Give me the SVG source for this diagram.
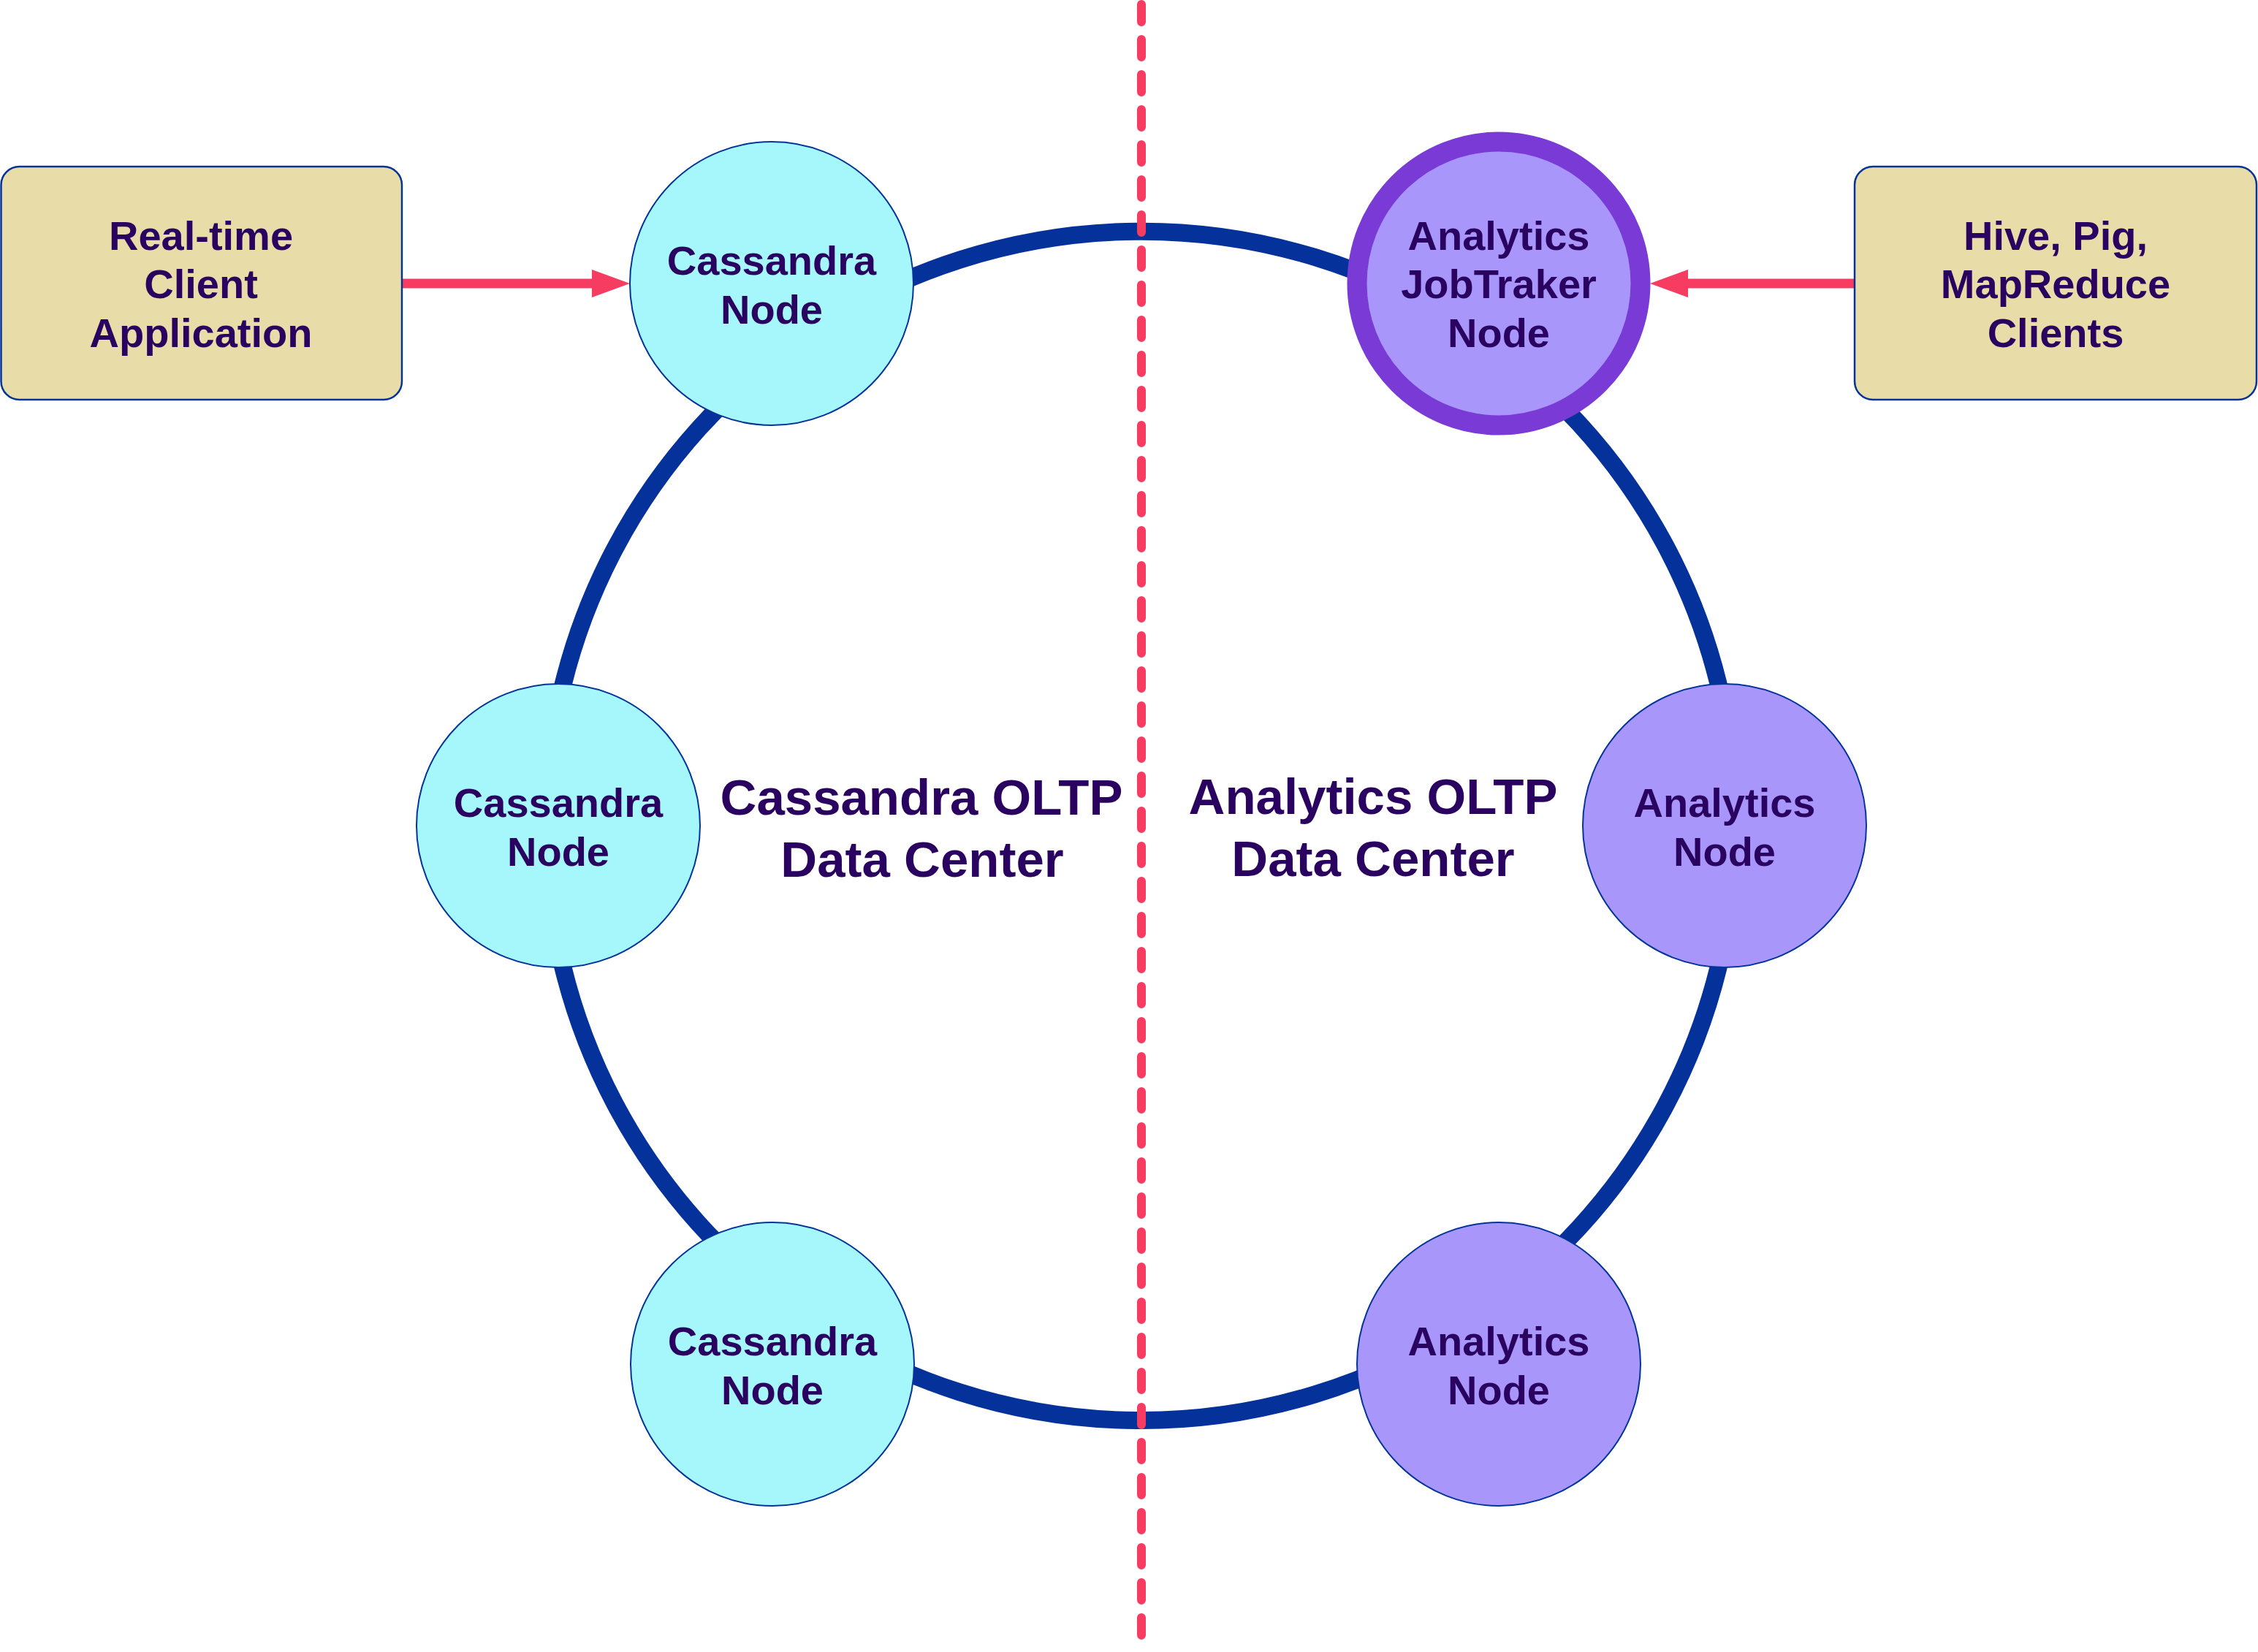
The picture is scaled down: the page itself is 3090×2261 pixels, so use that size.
<svg xmlns="http://www.w3.org/2000/svg" width="3090" height="2261" viewBox="0 0 3090 2261">
<style>
.t{font-family:"Liberation Sans",Arial,sans-serif;font-weight:bold;fill:#2A0360;text-anchor:middle}
.n{font-size:56px}
.big{font-size:69px}
.cass{fill:#A5F7FC;stroke:#04349A;stroke-width:2}
.ana{fill:#A996FB;stroke:#04349A;stroke-width:2}
.box{fill:#E8DCA8;stroke:#04349A;stroke-width:2.5}
.ring{fill:none;stroke:#04329A;stroke-width:24}
.arrow{fill:none;stroke:#F73C62;stroke-width:13;stroke-linecap:round}
.divider{fill:none;stroke:#F73C62;stroke-width:12;stroke-linecap:round;stroke-dasharray:24 24}
</style>
<defs>
<marker id="head" markerUnits="userSpaceOnUse" markerWidth="52" markerHeight="38" refX="0" refY="19" orient="auto">
<path d="M0,0 L52,19 L0,38 z" fill="#F73C62"/>
</marker>
</defs>
<rect width="3090" height="2261" fill="#FFFFFF"/>
<g id="connectors">
<path class="ring" d="M1103.7,458.1 A814,814 0 0 1 2011.7,452.1"/>
<path class="ring" d="M2011.7,452.1 A814,814 0 0 1 2375,1130"/>
<path class="ring" d="M2375,1130 A814,814 0 0 1 2011.7,1807.9"/>
<path class="ring" d="M2011.7,1807.9 A814,814 0 0 1 1101.5,1801.9"/>
<path class="ring" d="M1101.5,1801.9 A814,814 0 0 1 747,1130"/>
<path class="ring" d="M747,1130 A814,814 0 0 1 1103.7,458.1"/>
<path class="arrow" d="M551,388 L810,388" marker-end="url(#head)"/>
<path class="arrow" d="M2539,388 L2310,388" marker-end="url(#head)"/>
</g>
<path id="divider" class="divider" d="M1562,6 L1562,2238"/>
<g id="realtime-client">
<rect class="box" x="1.5" y="228" width="548.5" height="319" rx="25" ry="25"/>
<text class="t n" x="275" y="342">Real-time</text>
<text class="t n" x="275" y="408">Client</text>
<text class="t n" x="275" y="475">Application</text>
</g>
<g id="hive-clients">
<rect class="box" x="2538" y="228" width="550" height="319" rx="25" ry="25"/>
<text class="t n" x="2813" y="342">Hive, Pig,</text>
<text class="t n" x="2813" y="408">MapReduce</text>
<text class="t n" x="2813" y="475">Clients</text>
</g>
<g id="cassandra-node-top">
<circle class="cass" cx="1056" cy="388" r="194"/>
<text class="t n" x="1056" y="376">Cassandra</text>
<text class="t n" x="1056" y="443">Node</text>
</g>
<g id="cassandra-node-mid">
<circle class="cass" cx="764" cy="1130" r="194"/>
<text class="t n" x="764" y="1118">Cassandra</text>
<text class="t n" x="764" y="1185">Node</text>
</g>
<g id="cassandra-node-bottom">
<circle class="cass" cx="1057" cy="1867" r="194"/>
<text class="t n" x="1057" y="1855">Cassandra</text>
<text class="t n" x="1057" y="1922">Node</text>
</g>
<g id="analytics-jobtracker-node">
<circle cx="2051" cy="388" r="194" fill="#A996FB" stroke="#7A3AD6" stroke-width="27"/>
<text class="t n" x="2051" y="342">Analytics</text>
<text class="t n" x="2051" y="408">JobTraker</text>
<text class="t n" x="2051" y="475">Node</text>
</g>
<g id="analytics-node-mid">
<circle class="ana" cx="2360" cy="1130" r="194"/>
<text class="t n" x="2360" y="1118">Analytics</text>
<text class="t n" x="2360" y="1185">Node</text>
</g>
<g id="analytics-node-bottom">
<circle class="ana" cx="2051" cy="1867" r="194"/>
<text class="t n" x="2051" y="1855">Analytics</text>
<text class="t n" x="2051" y="1922">Node</text>
</g>
<g id="cassandra-dc-label">
<text class="t big" x="1261" y="1115">Cassandra OLTP</text>
<text class="t big" x="1262" y="1200">Data Center</text>
</g>
<g id="analytics-dc-label">
<text class="t big" x="1879" y="1114">Analytics OLTP</text>
<text class="t big" x="1879" y="1199">Data Center</text>
</g>
</svg>
